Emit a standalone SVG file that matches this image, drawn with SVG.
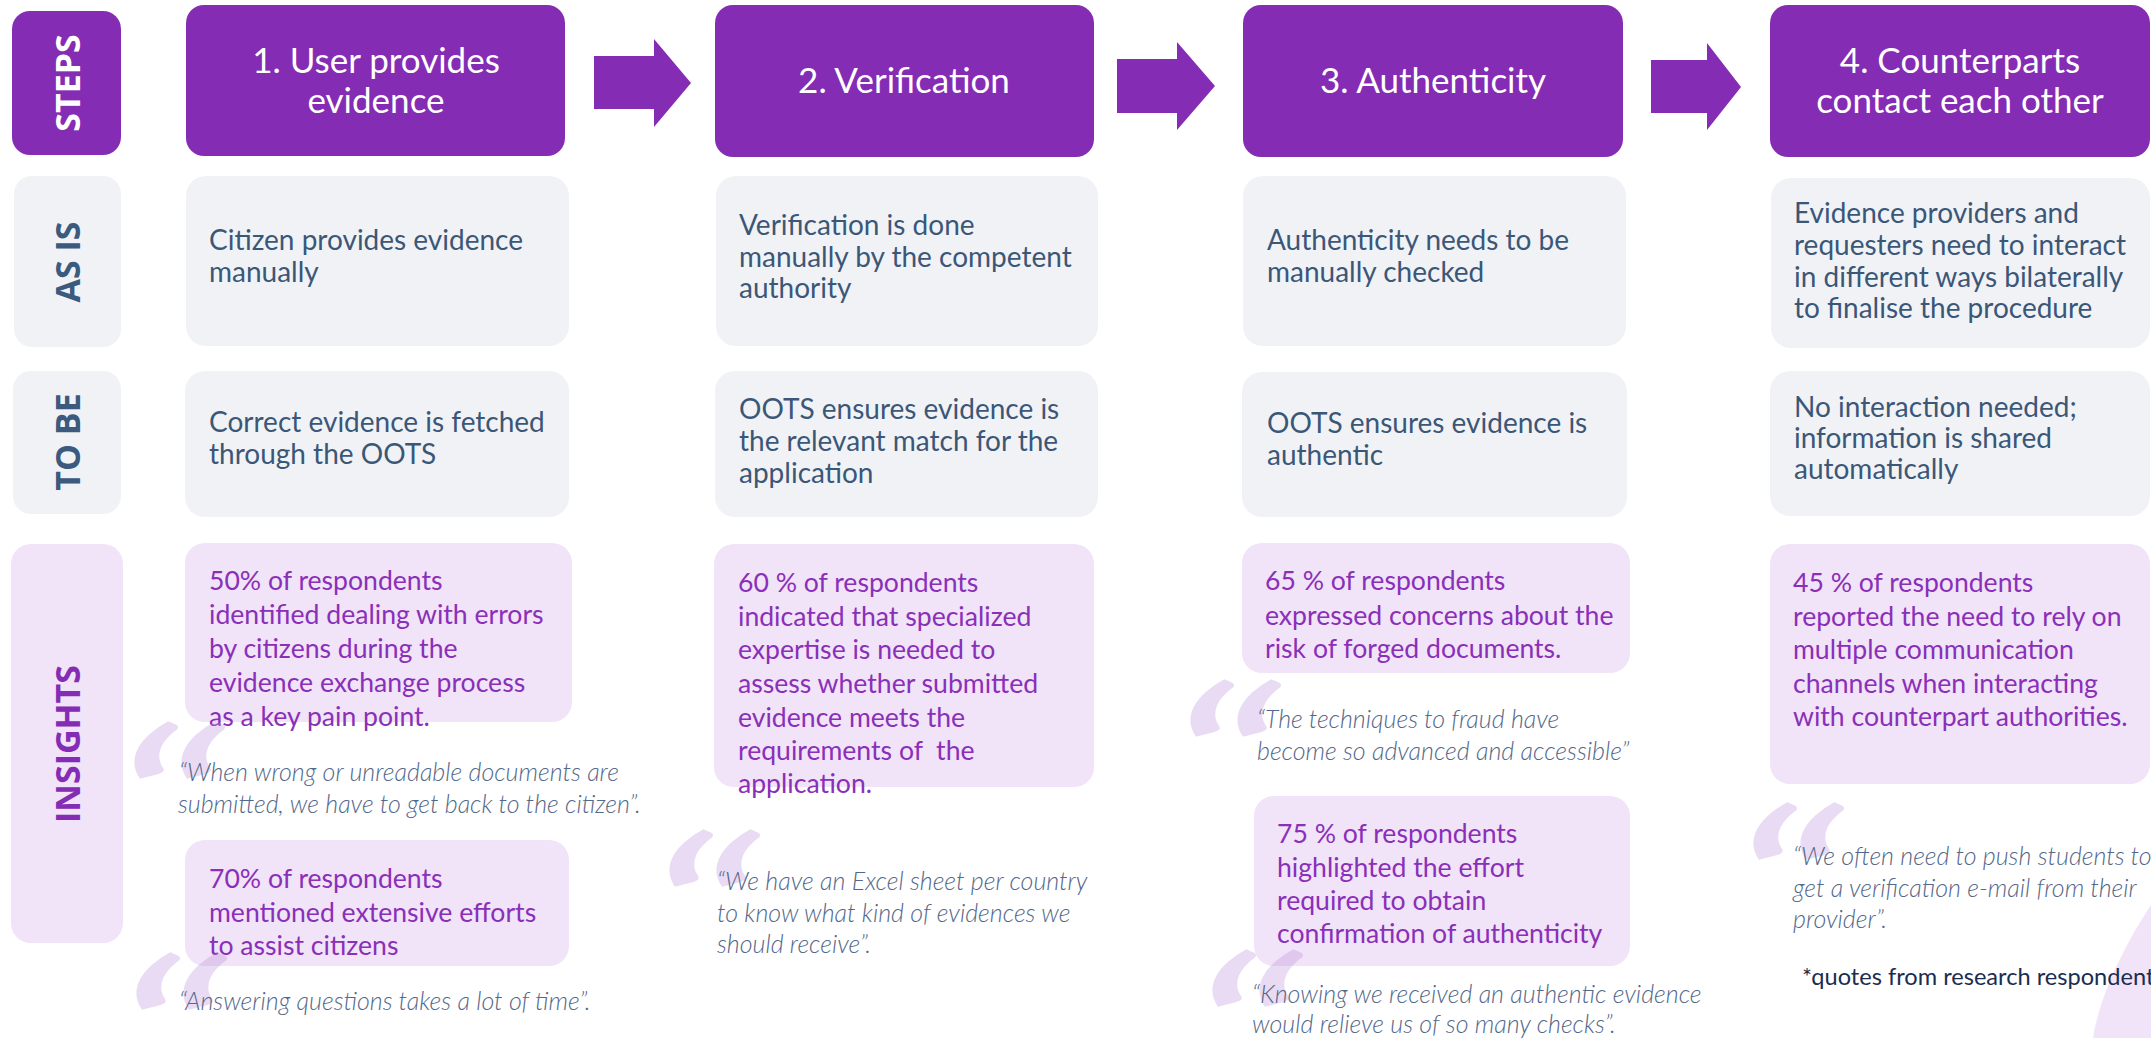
<svg xmlns="http://www.w3.org/2000/svg" width="2151" height="1038" viewBox="0 0 2151 1038">
  <style>
    .bg { fill: #ffffff; }
    .purple { fill: #852cb5; }
    .grey { fill: #f1f2f6; }
    .lilac { fill: #f1e3f8; }
    .lbl { font-family: "Open Sans", "DejaVu Sans", sans-serif; font-weight: 700; font-size: 34px; text-anchor: middle; }
    .lbl-w { fill: #ffffff; }
    .lbl-b { fill: #3b5a7d; }
    .lbl-p { fill: #852cb5; }
    .head { font-family: Lato, "Liberation Sans", sans-serif; font-size: 35px; fill: #ffffff; text-anchor: middle; }
    .body { font-family: Lato, "Liberation Sans", sans-serif; font-size: 28px; fill: #3b5778; }
    .ins { font-family: Lato, "Liberation Sans", sans-serif; font-size: 26.6px; fill: #8a2fb8; }
    .quote { font-family: Lato, "Liberation Sans", sans-serif; font-style: italic; font-weight: 300; font-size: 25px; fill: #53688a; }
    .qm { font-family: Lato, "Liberation Sans", sans-serif; font-style: italic; font-size: 225px; fill: #b98ad8; opacity: 0.3; }
    .note { font-family: Lato, "Liberation Sans", sans-serif; font-size: 23.6px; fill: #1b2d4f; }
    .arrow { fill: #852cb5; }
  </style>

  <rect class="bg" x="0" y="0" width="2151" height="1038"/>

  <!-- corner ornament -->
  <path class="lilac" d="M2151,905 C2120,952 2099,1000 2093,1038 L2151,1038 Z"/>

  <!-- row labels -->
  <g id="label-steps">
    <rect class="purple" x="12" y="11" width="109" height="144" rx="18"/>
    <text class="lbl lbl-w" transform="translate(80,83) rotate(-90)">STEPS</text>
  </g>
  <g id="label-as-is">
    <rect class="grey" x="14" y="176" width="107" height="171" rx="18"/>
    <text class="lbl lbl-b" transform="translate(80,262) rotate(-90)">AS IS</text>
  </g>
  <g id="label-to-be">
    <rect class="grey" x="13" y="371" width="108" height="143" rx="18"/>
    <text class="lbl lbl-b" transform="translate(80,442) rotate(-90)">TO BE</text>
  </g>
  <g id="label-insights">
    <rect class="lilac" x="11" y="544" width="112" height="399" rx="20"/>
    <text class="lbl lbl-p" transform="translate(80,744) rotate(-90)">INSIGHTS</text>
  </g>

  <!-- flow arrows between steps -->
  <g id="connectors">
    <polygon class="arrow" points="594,56 654,56 654,39 691,83 654,127 654,109 594,109"/>
    <polygon class="arrow" points="1117,59 1177,59 1177,42 1215,86 1177,130 1177,113 1117,113"/>
    <polygon class="arrow" points="1651,60 1707,60 1707,43 1741,87 1707,130 1707,113 1651,113"/>
  </g>

  <!-- step headers -->
  <g id="step-1">
    <rect class="purple" x="186" y="5" width="379" height="151" rx="18"/>
    <text class="head"><tspan x="376" y="73">1. User provides</tspan><tspan x="376" y="113">evidence</tspan></text>
  </g>
  <g id="step-2">
    <rect class="purple" x="715" y="5" width="379" height="152" rx="18"/>
    <text class="head" x="904" y="93">2. Verification</text>
  </g>
  <g id="step-3">
    <rect class="purple" x="1243" y="5" width="380" height="152" rx="18"/>
    <text class="head" x="1433" y="93">3. Authenticity</text>
  </g>
  <g id="step-4">
    <rect class="purple" x="1770" y="5" width="380" height="152" rx="18"/>
    <text class="head"><tspan x="1960" y="73">4. Counterparts</tspan><tspan x="1960" y="113">contact each other</tspan></text>
  </g>

  <!-- AS IS row -->
  <g id="as-is-1">
    <rect class="grey" x="186" y="176" width="383" height="170" rx="20"/>
    <text class="body"><tspan x="209" y="250">Citizen provides evidence</tspan><tspan x="209" y="282">manually</tspan></text>
  </g>
  <g id="as-is-2">
    <rect class="grey" x="716" y="176" width="382" height="170" rx="20"/>
    <text class="body"><tspan x="739" y="235">Verification is done</tspan><tspan x="739" y="267">manually by the competent</tspan><tspan x="739" y="298">authority</tspan></text>
  </g>
  <g id="as-is-3">
    <rect class="grey" x="1243" y="176" width="383" height="170" rx="20"/>
    <text class="body"><tspan x="1267" y="250">Authenticity needs to be</tspan><tspan x="1267" y="282">manually checked</tspan></text>
  </g>
  <g id="as-is-4">
    <rect class="grey" x="1771" y="178" width="379" height="170" rx="20"/>
    <text class="body"><tspan x="1794" y="223">Evidence providers and</tspan><tspan x="1794" y="255">requesters need to interact</tspan><tspan x="1794" y="287">in different ways bilaterally</tspan><tspan x="1794" y="318">to finalise the procedure</tspan></text>
  </g>

  <!-- TO BE row -->
  <g id="to-be-1">
    <rect class="grey" x="185" y="371" width="384" height="146" rx="20"/>
    <text class="body"><tspan x="209" y="432">Correct evidence is fetched</tspan><tspan x="209" y="464">through the OOTS</tspan></text>
  </g>
  <g id="to-be-2">
    <rect class="grey" x="715" y="371" width="383" height="146" rx="20"/>
    <text class="body"><tspan x="739" y="419">OOTS ensures evidence is</tspan><tspan x="739" y="451">the relevant match for the</tspan><tspan x="739" y="483">application</tspan></text>
  </g>
  <g id="to-be-3">
    <rect class="grey" x="1242" y="372" width="385" height="145" rx="20"/>
    <text class="body"><tspan x="1267" y="433">OOTS ensures evidence is</tspan><tspan x="1267" y="465">authentic</tspan></text>
  </g>
  <g id="to-be-4">
    <rect class="grey" x="1770" y="371" width="380" height="145" rx="20"/>
    <text class="body"><tspan x="1794" y="417">No interaction needed;</tspan><tspan x="1794" y="448">information is shared</tspan><tspan x="1794" y="479">automatically</tspan></text>
  </g>

  <!-- INSIGHTS row: figures -->
  <g id="insight-1a">
    <rect class="lilac" x="185" y="543" width="387" height="179" rx="20"/>
    <text class="ins"><tspan x="209" y="590">50% of respondents</tspan><tspan x="209" y="624">identified dealing with errors</tspan><tspan x="209" y="658">by citizens during the</tspan><tspan x="209" y="692">evidence exchange process</tspan><tspan x="209" y="726">as a key pain point.</tspan></text>
  </g>
  <g id="insight-1b">
    <rect class="lilac" x="185" y="840" width="384" height="126" rx="20"/>
    <text class="ins"><tspan x="209" y="888">70% of respondents</tspan><tspan x="209" y="922">mentioned extensive efforts</tspan><tspan x="209" y="955">to assist citizens</tspan></text>
  </g>
  <g id="insight-2">
    <rect class="lilac" x="714" y="544" width="380" height="243" rx="20"/>
    <text class="ins"><tspan x="738" y="592">60 % of respondents</tspan><tspan x="738" y="626">indicated that specialized</tspan><tspan x="738" y="659">expertise is needed to</tspan><tspan x="738" y="693">assess whether submitted</tspan><tspan x="738" y="727">evidence meets the</tspan><tspan x="738" y="760" xml:space="preserve">requirements of  the</tspan><tspan x="738" y="793">application.</tspan></text>
  </g>
  <g id="insight-3a">
    <rect class="lilac" x="1242" y="543" width="388" height="130" rx="20"/>
    <text class="ins"><tspan x="1265" y="590">65 % of respondents</tspan><tspan x="1265" y="625">expressed concerns about the</tspan><tspan x="1265" y="658">risk of forged documents.</tspan></text>
  </g>
  <g id="insight-3b">
    <rect class="lilac" x="1254" y="796" width="376" height="170" rx="20"/>
    <text class="ins"><tspan x="1277" y="843">75 % of respondents</tspan><tspan x="1277" y="877">highlighted the effort</tspan><tspan x="1277" y="910">required to obtain</tspan><tspan x="1277" y="943">confirmation of authenticity</tspan></text>
  </g>
  <g id="insight-4">
    <rect class="lilac" x="1770" y="544" width="380" height="240" rx="20"/>
    <text class="ins"><tspan x="1793" y="592">45 % of respondents</tspan><tspan x="1793" y="626">reported the need to rely on</tspan><tspan x="1793" y="659">multiple communication</tspan><tspan x="1793" y="693">channels when interacting</tspan><tspan x="1793" y="726">with counterpart authorities.</tspan></text>
  </g>

  <!-- INSIGHTS row: respondent quotes (opening marks widened) -->
  <g id="quote-1a">
    <text class="qm" transform="translate(106,893) scale(1.5,1)">“</text>
    <text class="quote"><tspan x="179" y="781">“When wrong or unreadable documents are</tspan><tspan x="178" y="813">submitted, we have to get back to the citizen”.</tspan></text>
  </g>
  <g id="quote-1b">
    <text class="qm" transform="translate(108,1124) scale(1.5,1)">“</text>
    <text class="quote" x="179" y="1010">“Answering questions takes a lot of time”.</text>
  </g>
  <g id="quote-2">
    <text class="qm" transform="translate(641,1001) scale(1.5,1)">“</text>
    <text class="quote"><tspan x="717" y="890">“We have an Excel sheet per country</tspan><tspan x="717" y="922">to know what kind of evidences we</tspan><tspan x="717" y="953">should receive”.</tspan></text>
  </g>
  <g id="quote-3a">
    <text class="qm" transform="translate(1162,851) scale(1.5,1)">“</text>
    <text class="quote"><tspan x="1257" y="728">“The techniques to fraud have</tspan><tspan x="1257" y="760">become so advanced and accessible”</tspan></text>
  </g>
  <g id="quote-3b">
    <text class="qm" transform="translate(1184,1121) scale(1.5,1)">“</text>
    <text class="quote"><tspan x="1252" y="1003">“Knowing we received an authentic evidence</tspan><tspan x="1252" y="1033">would relieve us of so many checks”.</tspan></text>
  </g>
  <g id="quote-4">
    <text class="qm" transform="translate(1725,974) scale(1.5,1)">“</text>
    <text class="quote"><tspan x="1793" y="865">“We often need to push students to</tspan><tspan x="1793" y="897">get a verification e-mail from their</tspan><tspan x="1793" y="928">provider”.</tspan></text>
  </g>

  <text id="footnote" class="note" x="1802" y="985">*quotes from research respondents</text>
</svg>
